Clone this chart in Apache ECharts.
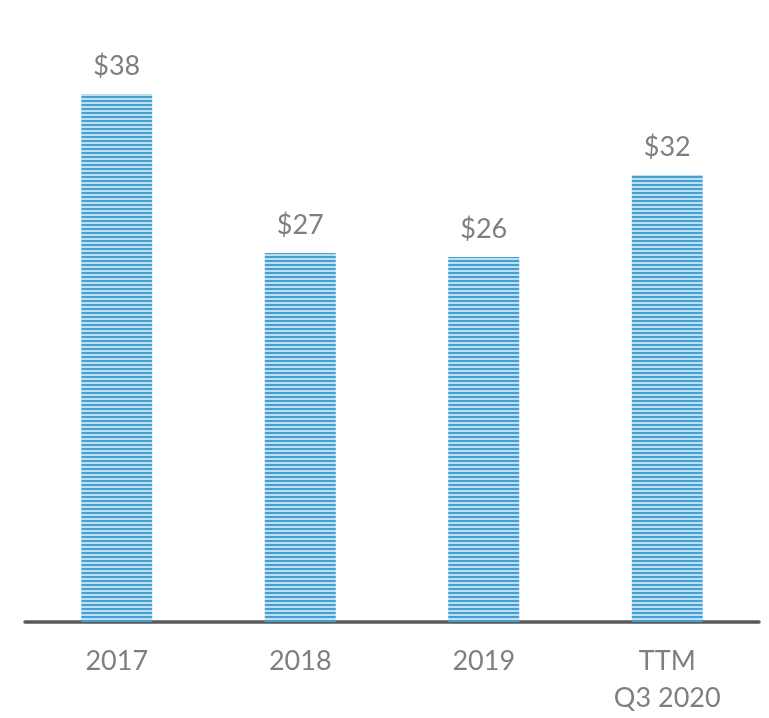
<!DOCTYPE html>
<html>
<head>
<meta charset="utf-8">
<script src="https://cdn.jsdelivr.net/npm/echarts@6/dist/echarts.min.js"></script>
<style>
html,body{margin:0;padding:0;background:#fff;}
#chart{width:769px;height:718px;}
</style>
</head>
<body>
<div id="chart"></div>
<script>
var categories = ['2017', '2018', '2019', 'TTM\nQ3 2020'];
var values = [37.85, 26.45, 26.16, 32.04];
var labels = ['$38', '$27', '$26', '$32'];

function stripePattern() {
  var c = document.createElement('canvas');
  c.width = 4; c.height = 4;
  var ctx = c.getContext('2d');
  ctx.fillStyle = '#bcdff1';
  ctx.fillRect(0, 0, 4, 4);
  ctx.fillStyle = '#45a0d1';
  ctx.fillRect(0, 0, 4, 2);
  return c;
}

var chart = echarts.init(document.getElementById('chart'));
chart.setOption({
  animation: false,
  backgroundColor: '#ffffff',
  grid: { left: 25, right: 10, top: 64, bottom: 96, containLabel: false },
  xAxis: {
    type: 'category',
    data: categories,
    axisLine: { show: true, lineStyle: { color: '#595959', width: 3.5 } },
    axisTick: { show: false },
    axisLabel: {
      margin: 21,
      color: '#7f7f7f',
      fontFamily: 'Lato',
      fontSize: 27,
      lineHeight: 37
    }
  },
  yAxis: {
    type: 'value',
    min: 0,
    max: 40,
    show: false,
    splitLine: { show: false }
  },
  series: [{
    type: 'bar',
    data: values,
    barWidth: 71,
    itemStyle: {
      color: { image: stripePattern(), repeat: 'repeat' }
    },
    label: {
      show: true,
      position: 'top',
      distance: 14,
      color: '#7f7f7f',
      fontFamily: 'Lato',
      fontSize: 27,
      formatter: function (p) { return labels[p.dataIndex]; }
    }
  }]
});
</script>
</body>
</html>
